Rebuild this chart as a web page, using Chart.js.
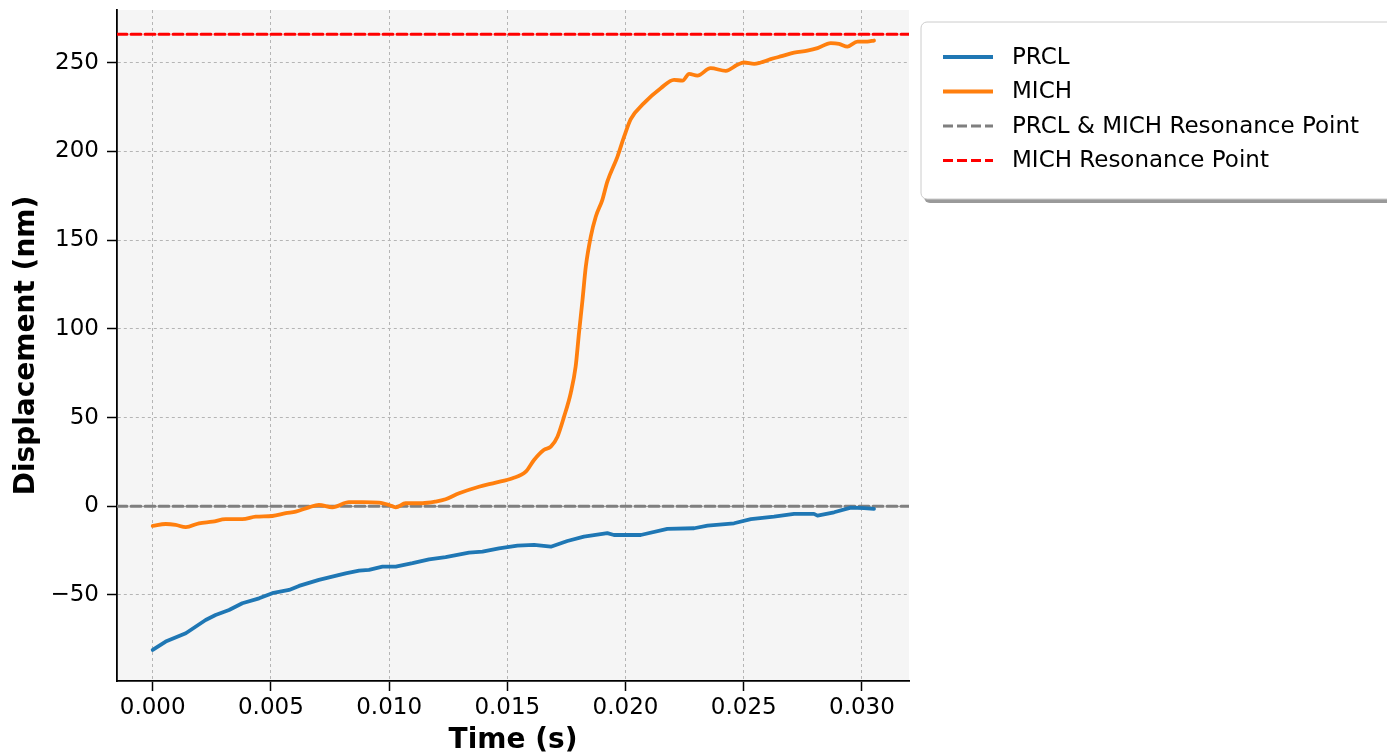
<!DOCTYPE html>
<html>
<head>
<meta charset="utf-8">
<script src="https://cdn.jsdelivr.net/npm/chart.js@4"></script>
<style>
  html, body { margin: 0; padding: 0; background: #fff; }
  #wrap { width: 1387px; height: 755px; position: relative; }
</style>
</head>
<body>
<div id="wrap"><canvas id="chart" width="1387" height="755"></canvas></div>
<script>
// Values
const prclTime = [0.00000, 0.00055, 0.00140, 0.00224, 0.00266, 0.00323, 0.00379, 0.00450, 0.00506, 0.00577,
  0.00619, 0.00703, 0.00816, 0.00873, 0.00915, 0.00972, 0.01028, 0.01099, 0.01169, 0.01239,
  0.01338, 0.01395, 0.01465, 0.01543, 0.01613, 0.01684, 0.01754, 0.01824, 0.01923, 0.01951,
  0.02064, 0.02177, 0.02290, 0.02347, 0.02459, 0.02530, 0.02628, 0.02713, 0.02797, 0.02812,
  0.02882, 0.02953, 0.03009, 0.03051];
const prclValues = [-81.0, -76.3, -71.6, -64.1, -61.3, -58.5, -54.7, -51.9, -49.0, -47.2,
  -44.9, -41.5, -37.8, -36.3, -35.9, -34.0, -34.0, -32.1, -29.9, -28.7,
  -26.2, -25.6, -23.7, -22.2, -21.8, -22.8, -19.6, -17.1, -15.2, -16.2,
  -16.2, -12.8, -12.4, -10.9, -9.6, -7.3, -5.9, -4.3, -4.3, -5.3,
  -3.4, -0.8, -1.1, -1.5];

const michTime = [0.00000, 0.00055, 0.00097, 0.00140, 0.00196, 0.00253, 0.00309, 0.00379, 0.00436, 0.00506,
  0.00563, 0.00605, 0.00661, 0.00703, 0.00760, 0.00830, 0.00887, 0.00957, 0.01000, 0.01028,
  0.01070, 0.01141, 0.01197, 0.01239, 0.01296, 0.01380, 0.01451, 0.01522, 0.01578, 0.01613,
  0.01654, 0.01684, 0.01712, 0.01740, 0.01768, 0.01789, 0.01803, 0.01818, 0.01832, 0.01853,
  0.01874, 0.01902, 0.01923, 0.01966, 0.01994, 0.02022, 0.02078, 0.02149, 0.02205, 0.02241,
  0.02269, 0.02304, 0.02360, 0.02424, 0.02473, 0.02501, 0.02544, 0.02572, 0.02614, 0.02664,
  0.02713, 0.02769, 0.02812, 0.02868, 0.02903, 0.02939, 0.02981, 0.03023, 0.03051];
const michValues = [-11.1, -10.0, -10.5, -11.8, -9.6, -8.7, -7.3, -7.3, -5.9, -5.5,
  -3.9, -3.0, -0.6, 0.7, -0.6, 2.3, 2.3, 2.0, 0.7, -0.6,
  1.7, 1.7, 2.6, 3.9, 7.3, 11.0, 13.3, 15.8, 19.5, 26.1,
  31.7, 33.6, 39.2, 50.5, 63.7, 78.7, 97.5, 116.3, 135.1, 152.0,
  163.2, 172.7, 183.0, 197.1, 208.3, 218.2, 227.2, 235.6, 240.3, 239.9,
  243.7, 242.7, 246.9, 245.4, 248.8, 250.1, 249.3, 250.1, 252.0, 253.8,
  255.7, 256.8, 258.2, 261.0, 260.6, 259.1, 261.9, 261.9, 262.5];

const bothResonance = 0;     // PRCL & MICH resonance point (nm)
const michResonance = 266;   // MICH resonance point (nm)

const xTicks = [0.000, 0.005, 0.010, 0.015, 0.020, 0.025, 0.030];
const yTicks = [-50, 0, 50, 100, 150, 200, 250];
const yTickLabels = ["\u221250", "0", "50", "100", "150", "200", "250"];

const xMin = -0.00151, xMax = 0.03199;
const yMin = -98.5, yMax = 279.7;

const FONT = "'DejaVu Sans', sans-serif";

function toPoints(xs, ys) {
  return xs.map((x, i) => ({ x: x, y: ys[i] }));
}

// Light grey background behind the plot area
const plotBackground = {
  id: "plotBackground",
  beforeDraw(chart) {
    const { ctx, chartArea: a } = chart;
    ctx.save();
    ctx.fillStyle = "#f5f5f5";
    ctx.fillRect(a.left, a.top, a.right - a.left, a.bottom - a.top);
    ctx.restore();
  },
};

// Boxed legend sitting outside the plot on the right
const boxLegend = {
  id: "boxLegend",
  afterDraw(chart) {
    const ctx = chart.ctx;
    const x = 921, y = 22, w = 480, h = 177, r = 6;
    ctx.save();
    // shadow
    ctx.fillStyle = "#9a9a9a";
    ctx.beginPath();
    ctx.roundRect(x + 3, y + 4, w, h, r);
    ctx.fill();
    ctx.fillStyle = "#ffffff";
    ctx.strokeStyle = "#cccccc";
    ctx.lineWidth = 1;
    ctx.beginPath();
    ctx.roundRect(x, y, w, h, r);
    ctx.fill();
    ctx.stroke();

    ctx.font = "23px " + FONT;
    ctx.textBaseline = "middle";
    ctx.textAlign = "left";
    chart.data.datasets.forEach((ds, i) => {
      const rowY = 57 + i * 34.5;
      ctx.strokeStyle = ds.borderColor;
      ctx.lineWidth = ds.borderWidth;
      ctx.setLineDash(ds.borderDash || []);
      ctx.beginPath();
      ctx.moveTo(943, rowY);
      ctx.lineTo(993, rowY);
      ctx.stroke();
      ctx.setLineDash([]);
      ctx.fillStyle = "#000";
      ctx.fillText(ds.label, 1012, rowY + 1);
    });
    ctx.restore();
  },
};

const ctx = document.getElementById("chart").getContext("2d");
new Chart(ctx, {
  type: "line",
  data: {
    datasets: [
      {
        label: "PRCL",
        data: toPoints(prclTime, prclValues),
        borderColor: "#1f77b4",
        borderWidth: 3.8,
      },
      {
        label: "MICH",
        data: toPoints(michTime, michValues),
        borderColor: "#ff7f0e",
        borderWidth: 3.8,
        cubicInterpolationMode: "monotone",
      },
      {
        label: "PRCL & MICH Resonance Point",
        data: toPoints([xMin, xMax], [bothResonance, bothResonance]),
        borderColor: "#7f7f7f",
        borderWidth: 3,
        borderDash: [10, 4],
      },
      {
        label: "MICH Resonance Point",
        data: toPoints([xMin, xMax], [michResonance, michResonance]),
        borderColor: "#ff0000",
        borderWidth: 3,
        borderDash: [10, 4],
      },
    ],
  },
  options: {
    responsive: false,
    animation: false,
    layout: { padding: { left: 0, top: 10, right: 478, bottom: 0 } },
    elements: {
      point: { radius: 0, hoverRadius: 0 },
      line: { tension: 0, borderCapStyle: "round", borderJoinStyle: "round" },
    },
    plugins: {
      legend: { display: false },
      tooltip: { enabled: false },
    },
    scales: {
      x: {
        type: "linear",
        min: xMin,
        max: xMax,
        afterBuildTicks: (scale) => { scale.ticks = xTicks.map((v) => ({ value: v })); },
        afterFit: (scale) => {
          scale.height = 74;
          scale.paddingLeft = 0;
          scale.paddingRight = 0;
        },
        ticks: {
          includeBounds: false,
          maxRotation: 0,
          autoSkip: false,
          padding: 3,
          color: "#000",
          font: { family: FONT, size: 23 },
          callback: (v) => v.toFixed(3),
        },
        grid: {
          color: "#b5b5b5",
          lineWidth: 1,
          tickColor: "#000",
          tickWidth: 1.5,
          tickLength: 10,
        },
        border: { display: true, color: "#000", width: 1.8, dash: [3, 3] },
        title: {
          display: true,
          text: "Time (s)",
          color: "#000",
          font: { family: FONT, size: 28, weight: "bold", lineHeight: 1.0 },
          padding: { top: 0, bottom: 0 },
        },
      },
      y: {
        type: "linear",
        min: yMin,
        max: yMax,
        afterBuildTicks: (scale) => { scale.ticks = yTicks.map((v) => ({ value: v })); },
        afterFit: (scale) => {
          scale.width = 117;
          scale.paddingTop = 0;
          scale.paddingBottom = 0;
        },
        ticks: {
          includeBounds: false,
          autoSkip: false,
          padding: 8,
          color: "#000",
          font: { family: FONT, size: 23 },
          callback: (v) => yTickLabels[yTicks.indexOf(v)],
        },
        grid: {
          color: "#b5b5b5",
          lineWidth: 1,
          tickColor: "#000",
          tickWidth: 1.5,
          tickLength: 10,
        },
        border: { display: true, color: "#000", width: 1.8, dash: [3, 3] },
        title: {
          display: true,
          text: "Displacement (nm)",
          color: "#000",
          font: { family: FONT, size: 28, weight: "bold", lineHeight: 1.2 },
          padding: { top: 10, bottom: 0 },
        },
      },
    },
  },
  plugins: [plotBackground, boxLegend],
});
</script>
</body>
</html>
